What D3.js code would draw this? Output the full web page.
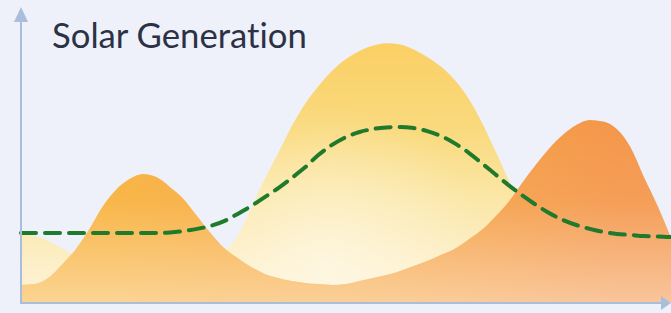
<!DOCTYPE html>
<html>
<head>
<meta charset="utf-8">
<script src="https://cdn.jsdelivr.net/npm/d3@7"></script>
<style>
  html, body { margin: 0; padding: 0; background: #eef1f9; }
  svg { display: block; }
</style>
</head>
<body>
<svg id="chart" width="671" height="313"></svg>
<script>
// ---- data (half-hour steps over a 24h day) ----
const hours = d3.range(0, 24.01, 0.5);
const title = "Solar Generation";

// orange area (actual generation)
const actual = [6, 6.3, 8.3, 12.7, 17.7, 24.3, 32, 37.7, 41.3, 43, 42, 38.7, 34.7, 29, 23.3, 18.3,
  15, 12, 9.7, 8.3, 7.3, 6.7, 6.3, 6, 6.3, 7.3, 8.3, 9.3, 10.7, 12.3, 14, 16, 18, 21, 24.3, 28.7,
  33.7, 40, 46, 51.5, 56, 59.3, 61, 60.5, 58, 52, 42, 32.5, 21.7];

// yellow area (forecast)
const forecast = [23, 22.3, 20.7, 18.3, 15.7, 13.7, 12, 11, 10.3, 10.3, 10.7, 11.7, 12.3, 12.7, 13.7, 17,
  22.3, 31.7, 41.3, 50, 59, 66.5, 72.5, 77.5, 81.3, 84, 85.8, 86.6, 86.2, 84.5, 82, 78.8, 74.5, 68.5,
  60.5, 51, 41, 30.5, 21.5, 15, 11.7, 9.7, 8.3, 7.7, 7.3, 7, 6.7, 6.7, 6.7];

// green dashed line (average)
const average = [23.3, 23.3, 23.3, 23.3, 23.3, 23.3, 23.3, 23.3, 23.3, 23.3, 23.3, 23.5, 24, 24.7, 25.7, 27.3,
  29.7, 32.3, 35.3, 38.3, 41.7, 45.3, 49.5, 52.8, 55.3, 57, 58, 58.5, 58.7, 58.3, 57.3, 55.7, 53.3, 50.3,
  46.7, 43, 39.3, 35.9, 32.8, 30, 27.7, 26, 24.7, 23.7, 23, 22.7, 22.3, 22.2, 22];

// ---- layout ----
const svg = d3.select("#chart");
const W = 671, H = 313;
const x0 = 21, x1 = 671, yBottom = 303;

const x = d3.scaleLinear().domain([0, 24]).range([x0, x1]);
const y = d3.scaleLinear().domain([0, 100]).range([yBottom, 3]);

svg.append("rect").attr("width", W).attr("height", H).attr("fill", "#eef1f9");

const defs = svg.append("defs");

// yellow vertical gradient
const gY = defs.append("linearGradient").attr("id", "gYellow")
  .attr("gradientUnits", "userSpaceOnUse").attr("x1", 0).attr("x2", 0).attr("y1", 40).attr("y2", 300);
gY.append("stop").attr("offset", 0).attr("stop-color", "#fbcf64");
gY.append("stop").attr("offset", 0.35).attr("stop-color", "#f9da7e");
gY.append("stop").attr("offset", 0.62).attr("stop-color", "#fbe7a8");
gY.append("stop").attr("offset", 1).attr("stop-color", "#fdf3da");

// yellow soft inner glow
const gYr = defs.append("radialGradient").attr("id", "gYellowGlow")
  .attr("gradientUnits", "userSpaceOnUse").attr("cx", 330).attr("cy", 265).attr("r", 160);
gYr.append("stop").attr("offset", 0).attr("stop-color", "#fffbee").attr("stop-opacity", 0.6);
gYr.append("stop").attr("offset", 1).attr("stop-color", "#fffbee").attr("stop-opacity", 0);

// orange horizontal gradient
const gO = defs.append("linearGradient").attr("id", "gOrange")
  .attr("gradientUnits", "userSpaceOnUse").attr("x1", 100).attr("x2", 620).attr("y1", 0).attr("y2", 0);
gO.append("stop").attr("offset", 0).attr("stop-color", "#f8b13b");
gO.append("stop").attr("offset", 0.5).attr("stop-color", "#f7a845");
gO.append("stop").attr("offset", 1).attr("stop-color", "#f4964a");

// orange fading toward bottom
const gOv = defs.append("linearGradient").attr("id", "gOrangeFade")
  .attr("gradientUnits", "userSpaceOnUse").attr("x1", 0).attr("x2", 0).attr("y1", 120).attr("y2", 303);
gOv.append("stop").attr("offset", 0).attr("stop-color", "#ffffff").attr("stop-opacity", 0);
gOv.append("stop").attr("offset", 0.45).attr("stop-color", "#ffffff").attr("stop-opacity", 0.08);
gOv.append("stop").attr("offset", 1).attr("stop-color", "#ffffff").attr("stop-opacity", 0.45);

const curve = d3.curveMonotoneX;

const area = d3.area()
  .x((d, i) => x(hours[i]))
  .y0(y(0))
  .y1(d => y(d))
  .curve(curve);

const line = d3.line()
  .x((d, i) => x(hours[i]))
  .y(d => y(d))
  .curve(curve);

const plot = svg.append("g");

plot.append("path").datum(forecast).attr("d", area).attr("fill", "url(#gYellow)");
plot.append("path").datum(forecast).attr("d", area).attr("fill", "url(#gYellowGlow)");

plot.append("path").datum(actual).attr("d", area).attr("fill", "url(#gOrange)");
plot.append("path").datum(actual).attr("d", area).attr("fill", "url(#gOrangeFade)");

plot.append("path").datum(average).attr("d", line)
  .attr("fill", "none")
  .attr("stroke", "#1f7a2c")
  .attr("stroke-width", 4)
  .attr("stroke-dasharray", "15,9")
  .attr("stroke-linecap", "round");

// ---- axes (arrows) ----
const axisColor = "#a9bedb";
const axes = svg.append("g");
axes.append("line").attr("x1", x0).attr("x2", x0).attr("y1", yBottom).attr("y2", 20)
  .attr("stroke", axisColor).attr("stroke-width", 2);
axes.append("path").attr("d", `M${x0},7 L${x0 - 7},22 L${x0 + 7},22 Z`).attr("fill", axisColor);
axes.append("line").attr("x1", x0 - 1).attr("x2", 662).attr("y1", yBottom).attr("y2", yBottom)
  .attr("stroke", axisColor).attr("stroke-width", 2);
axes.append("path").attr("d", `M671,${yBottom} L661,${yBottom - 7} L661,${yBottom + 7} Z`).attr("fill", axisColor);

// ---- title ----
const t = svg.append("text")
  .attr("x", 52).attr("y", 48)
  .attr("font-family", "Lato, 'Open Sans', sans-serif")
  .attr("font-size", 28)
  .style("font-variant-ligatures", "none")
  .attr("fill", "#2c3146")
  .text(title);
const tw = t.node().getComputedTextLength();
t.attr("font-size", 28 * 255 / tw);
</script>
</body>
</html>
